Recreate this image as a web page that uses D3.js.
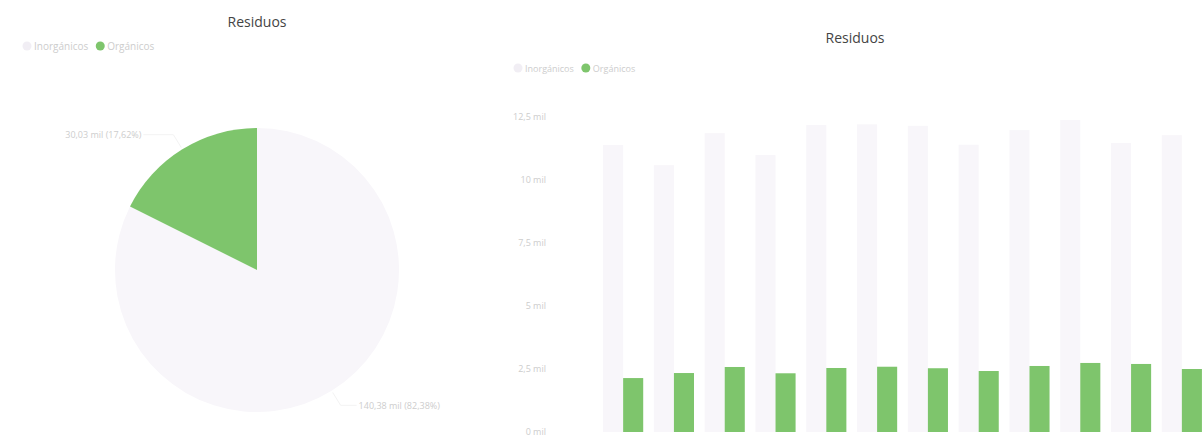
<!DOCTYPE html>
<html>
<head>
<meta charset="utf-8">
<script src="https://cdn.jsdelivr.net/npm/d3@7/dist/d3.min.js"></script>
<style>
  html, body { margin: 0; padding: 0; background: #ffffff; }
  svg { display: block; font-family: "Open Sans", "DejaVu Sans", sans-serif; }
</style>
</head>
<body>
<svg id="chart" width="1203" height="439"></svg>
<script>
// Waste tonnage per month, split into two categories
const seriesNames = ["Inorgánicos", "Orgánicos"];
const months = ["enero", "febrero", "marzo", "abril", "mayo", "junio",
                "julio", "agosto", "septiembre", "octubre", "noviembre", "diciembre"];
const inorganicos = [11390, 10590, 11860, 10990, 12180, 12210, 12150, 11400, 11980, 12380, 11470, 11780];
const organicos   = [2140, 2340, 2580, 2330, 2540, 2590, 2530, 2420, 2620, 2740, 2700, 2500];
const yTicks = [0, 2500, 5000, 7500, 10000, 12500];

const colors = ["#f8f6fa", "#7ec56c"];
const faintText = "#cdcdcd";

const svg = d3.select("#chart");
const es = d3.formatLocale({ decimal: ",", thousands: ".", grouping: [3], currency: ["", " €"] });
const fmtMil = v => es.format(",.2f")(v / 1000) + " mil";
const fmtAxis = v => v === 0 ? "0 mil" : es.format("~g")(v / 1000) + " mil";
const fmtPct = es.format(".2%");

// ---------- Pie: totals per category ----------
const totals = [d3.sum(inorganicos), d3.sum(organicos)];
const grand = d3.sum(totals);
const pieData = seriesNames.map((n, i) => ({ name: n, value: totals[i], color: colors[i] }));

const left = svg.append("g");
left.append("text").attr("x", 257).attr("y", 27).attr("text-anchor", "middle")
  .attr("font-size", 14).attr("fill", "#444").text("Residuos");

// legend
const legL = left.append("g").attr("transform", "translate(27,46)");
let lx = 0;
pieData.forEach((d, i) => {
  const g = legL.append("g").attr("transform", `translate(${lx},0)`);
  g.append("circle").attr("r", 4.5).attr("fill", i === 0 ? "#f1eef4" : d.color);
  const t = g.append("text").attr("x", 7).attr("y", 3.5).attr("font-size", 10)
    .attr("fill", faintText).text(d.name);
  lx += 7 + t.node().getComputedTextLength() + 12;
});

const cx = 257, cy = 270, R = 142;
const pie = d3.pie().value(d => d.value).sort(null);
const arcs = pie(pieData);
const arc = d3.arc().innerRadius(0).outerRadius(R);
const pg = left.append("g").attr("transform", `translate(${cx},${cy})`);
pg.selectAll("path").data(arcs).join("path")
  .attr("d", arc).attr("fill", d => d.data.color);

// outside labels with leader lines
arcs.forEach(a => {
  const mid = (a.startAngle + a.endAngle) / 2;
  const r1 = R + 2, r2 = R * 1.12;
  const p1 = [Math.sin(mid) * r1, -Math.cos(mid) * r1];
  const p2 = [Math.sin(mid) * r2, -Math.cos(mid) * r2];
  const right = Math.sin(mid) > 0;
  const p3 = [p2[0] + (right ? 16 : -30), p2[1]];
  pg.append("polyline").attr("points", [p1, p2, p3].map(p => p.join(",")).join(" "))
    .attr("fill", "none").attr("stroke", "#f3f3f3").attr("stroke-width", 1);
  pg.append("text").attr("x", p3[0] + (right ? 2 : -2)).attr("y", p3[1] + 3.5)
    .attr("text-anchor", right ? "start" : "end").attr("font-size", 9)
    .attr("fill", faintText)
    .text(`${fmtMil(a.data.value)} (${fmtPct(a.data.value / grand)})`);
});

// ---------- Clustered columns per month ----------
const right = svg.append("g");
right.append("text").attr("x", 855).attr("y", 43).attr("text-anchor", "middle")
  .attr("font-size", 14).attr("fill", "#444").text("Residuos");

const legR = right.append("g").attr("transform", `translate(518,68)`);
let rx = 0;
seriesNames.forEach((n, i) => {
  const g = legR.append("g").attr("transform", `translate(${rx},0)`);
  g.append("circle").attr("r", 4.5).attr("fill", i === 0 ? "#f1eef4" : colors[i]);
  const t = g.append("text").attr("x", 7).attr("y", 3.5).attr("font-size", 9)
    .attr("fill", faintText).text(n);
  rx += 7 + t.node().getComputedTextLength() + 12;
});

const x = d3.scaleBand().domain(months).range([598, 1207]).paddingInner(0.21).paddingOuter(0.1);
const xs = d3.scaleBand().domain(seriesNames).range([0, x.bandwidth()]).padding(0);
const y = d3.scaleLinear().domain([0, 12500]).range([432, 117]);

right.append("g").attr("transform", "translate(548,0)")
  .call(d3.axisLeft(y).tickValues(yTicks).tickFormat(fmtAxis).tickSize(0).tickPadding(2))
  .call(g => g.select(".domain").remove())
  .call(g => g.selectAll("text").attr("font-size", 9).attr("fill", faintText)
    .attr("font-family", "\"Open Sans\", sans-serif"));

const rows = months.map((m, i) => ({ month: m, values: [inorganicos[i], organicos[i]] }));
const groups = right.selectAll("g.month").data(rows).join("g")
  .attr("class", "month").attr("transform", d => `translate(${x(d.month)},0)`);
groups.selectAll("rect").data(d => d.values.map((v, i) => ({ name: seriesNames[i], v, i })))
  .join("rect")
  .attr("x", d => xs(d.name)).attr("width", xs.bandwidth())
  .attr("y", d => y(d.v)).attr("height", d => y(0) - y(d.v))
  .attr("fill", d => colors[d.i]);
</script>
</body>
</html>
